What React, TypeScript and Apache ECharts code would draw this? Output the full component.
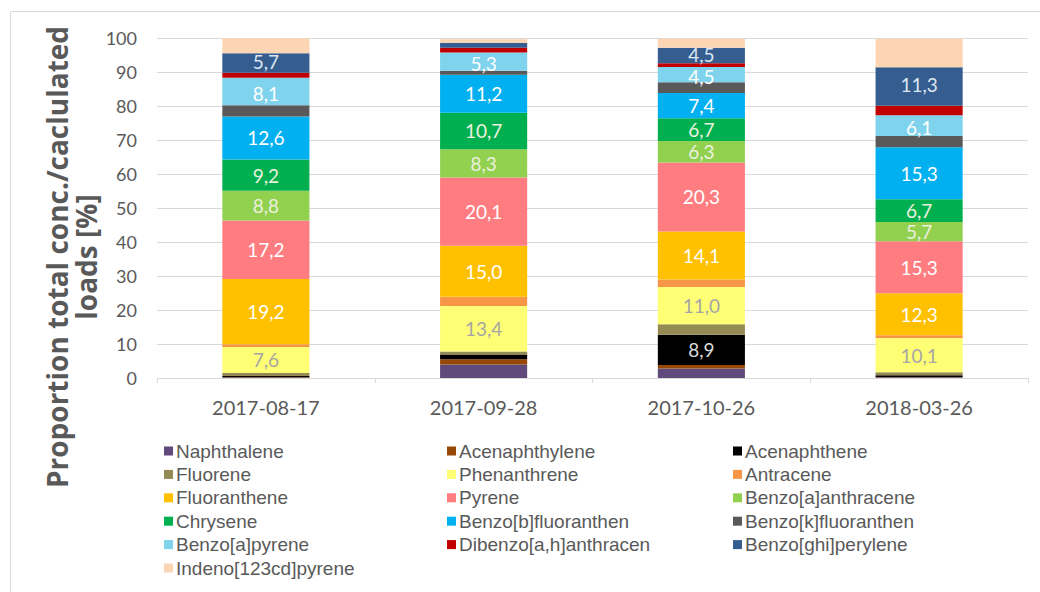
import React, { useEffect, useRef } from "react";
import * as echarts from "echarts";

const categories = ["2017-08-17", "2017-09-28", "2017-10-26", "2018-03-26"];
const yTicks = [0, 10, 20, 30, 40, 50, 60, 70, 80, 90, 100];

const naphthalene = [0.1, 4.0, 2.8, 0.2];
const acenaphthylene = [0.1, 1.5, 1.0, 0.1];
const acenaphthene = [0.4, 1.4, 8.9, 0.5];
const fluorene = [0.9, 0.9, 3.1, 0.9];
const phenanthrene = [7.6, 13.4, 11.0, 10.1];
const antracene = [0.8, 2.7, 2.2, 0.8];
const fluoranthene = [19.2, 15.0, 14.1, 12.3];
const pyrene = [17.2, 20.1, 20.3, 15.3];
const benzoAAnthracene = [8.8, 8.3, 6.3, 5.7];
const chrysene = [9.2, 10.7, 6.7, 6.7];
const benzoBFluoranthen = [12.6, 11.2, 7.4, 15.3];
const benzoKFluoranthen = [3.3, 1.2, 3.2, 3.3];
const benzoAPyrene = [8.1, 5.3, 4.5, 6.1];
const dibenzoAHAnthracen = [1.5, 1.4, 1.1, 2.8];
const benzoGhiPerylene = [5.7, 1.5, 4.5, 11.3];
const indenoPyrene = [4.4, 1.0, 2.7, 8.4];

const seriesDefs = [
  { name: "Naphthalene", data: naphthalene, color: "#604a7b", label: false },
  { name: "Acenaphthylene", data: acenaphthylene, color: "#974806", label: false },
  { name: "Acenaphthene", data: acenaphthene, color: "#000000", label: true, labelColor: "#d9d9d9" },
  { name: "Fluorene", data: fluorene, color: "#948a54", label: false },
  { name: "Phenanthrene", data: phenanthrene, color: "#ffff75", label: true, labelColor: "#a6a6a6" },
  { name: "Antracene", data: antracene, color: "#f79646", label: false },
  { name: "Fluoranthene", data: fluoranthene, color: "#ffc000", label: true },
  { name: "Pyrene", data: pyrene, color: "#ff7c80", label: true },
  { name: "Benzo[a]anthracene", data: benzoAAnthracene, color: "#92d050", label: true, labelColor: "#ebf1de" },
  { name: "Chrysene", data: chrysene, color: "#00b050", label: true, labelColor: "#ebf1de" },
  { name: "Benzo[b]fluoranthen", data: benzoBFluoranthen, color: "#00b0f0", label: true },
  { name: "Benzo[k]fluoranthen", data: benzoKFluoranthen, color: "#595959", label: false },
  { name: "Benzo[a]pyrene", data: benzoAPyrene, color: "#7fd3ec", label: true, offset: [0, 1.5] },
  { name: "Dibenzo[a,h]anthracen", data: dibenzoAHAnthracen, color: "#c00000", label: false },
  { name: "Benzo[ghi]perylene", data: benzoGhiPerylene, color: "#355d8f", label: true, labelColor: "#dce6f2", offset: [0, -1.5] },
  { name: "Indeno[123cd]pyrene", data: indenoPyrene, color: "#fcd5b5", label: false },
];

const legendCols = [
  ["Naphthalene", "Fluorene", "Fluoranthene", "Chrysene", "Benzo[a]pyrene", "Indeno[123cd]pyrene"],
  ["Acenaphthylene", "Phenanthrene", "Pyrene", "Benzo[b]fluoranthen", "Dibenzo[a,h]anthracen"],
  ["Acenaphthene", "Antracene", "Benzo[a]anthracene", "Benzo[k]fluoranthen", "Benzo[ghi]perylene"],
];
const legendLefts = [164, 447, 733];

const FONT = "Lato";
const FONT2 = "Open Sans";
const FONT3 = "Liberation Sans";
const TXT = "#595959";

export default function App() {
  const ref = useRef<HTMLDivElement>(null);
  useEffect(() => {
    if (!ref.current) return;
    const chart = echarts.init(ref.current, null, { renderer: "svg" });
    chart.setOption({
      animation: false,
      backgroundColor: "#ffffff",
      textStyle: { fontFamily: FONT },
      grid: { left: 157, right: 12, top: 38, bottom: 214 },
      xAxis: {
        type: "category",
        data: categories,
        axisLine: { lineStyle: { color: "#d9d9d9" } },
        axisTick: { show: true, alignWithLabel: false, length: 5, lineStyle: { color: "#d9d9d9" } },
        axisLabel: { color: TXT, fontSize: 20, fontFamily: FONT, margin: 19 },
      },
      yAxis: {
        type: "value",
        min: yTicks[0],
        max: yTicks[yTicks.length - 1],
        interval: 10,
        axisLine: { show: false },
        axisTick: { show: false },
        splitLine: { lineStyle: { color: "#d9d9d9" } },
        axisLabel: { color: TXT, fontSize: 18, fontFamily: FONT, margin: 20 },
      },
      legend: legendCols.map((col, i) => ({
        orient: "vertical",
        left: legendLefts[i],
        top: 441.5,
        padding: 0,
        height: 145,
        data: col,
        itemWidth: 9,
        itemHeight: 9,
        itemGap: 4.4,
        icon: "rect",
        selectedMode: false,
        textStyle: { color: TXT, fontSize: 19, fontFamily: FONT3, padding: [0, 0, 0, -2] },
      })),
      graphic: [
        {
          type: "rect",
          shape: { x: 10.5, y: 11.5, width: 1060, height: 620 },
          style: { fill: "none", stroke: "#d9d9d9", lineWidth: 1 },
          silent: true,
        },
        {
          type: "text",
          x: 71,
          y: 257,
          rotation: Math.PI / 2,
          style: {
            text: "Proportion total conc./caclulated\nloads [%]",
            fill: TXT,
            font: `bold 28px ${FONT2}`,
            align: "center",
            verticalAlign: "middle",
            lineHeight: 29,
          },
        },
      ],
      series: seriesDefs.map((s: any) => ({
        name: s.name,
        type: "bar",
        stack: "total",
        barWidth: "40%",
        data: s.data,
        itemStyle: { color: s.color },
        label: {
          show: s.label,
          position: "inside",
          offset: s.offset || [0, 0],
          color: s.labelColor || "#ffffff",
          fontSize: 19,
          fontFamily: FONT,
          formatter: (p: any) => (p.value >= 4.5 ? Number(p.value).toFixed(1).replace(".", ",") : ""),
        },
      })),
    });
    return () => chart.dispose();
  }, []);
  return <div ref={ref} style={{ width: 1040, height: 592, position: "absolute", left: 0, top: 0 }} />;
}
